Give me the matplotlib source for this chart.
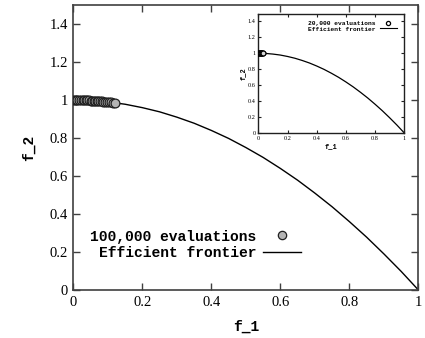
import matplotlib
matplotlib.use("Agg")
import matplotlib.pyplot as plt
from matplotlib.lines import Line2D

# Efficient frontier
front_f1 = [0.0, 0.05, 0.1, 0.15, 0.2, 0.25, 0.3, 0.35, 0.4, 0.45, 0.5,
            0.55, 0.6, 0.65, 0.7, 0.75, 0.8, 0.85, 0.9, 0.95, 1.0]
front_f2 = [1.0, 0.998, 0.99, 0.978, 0.96, 0.938, 0.91, 0.878, 0.84, 0.798, 0.75,
            0.698, 0.64, 0.578, 0.51, 0.438, 0.36, 0.278, 0.19, 0.098, 0.0]

# 100,000 evaluations solutions
main_f1 = [0.0, 0.004, 0.008, 0.012, 0.017, 0.022, 0.027, 0.031, 0.036, 0.041,
           0.046, 0.05, 0.055, 0.06, 0.064, 0.068, 0.072, 0.077, 0.082, 0.087,
           0.092, 0.097, 0.102, 0.108, 0.114, 0.12]
main_f2 = [1.0, 1.0, 1.0, 1.0, 1.0, 1.0, 0.999, 0.999, 0.999, 0.998,
           0.998, 0.997, 0.997, 0.996, 0.996, 0.995, 0.995, 0.994, 0.993, 0.992,
           0.992, 0.991, 0.99, 0.988, 0.987, 0.986]

# 20,000 evaluations solutions (inset)
ins_f1 = [0.0, 0.003, 0.006, 0.009, 0.012, 0.015, 0.018, 0.021, 0.024, 0.027, 0.03, 0.034]
ins_f2 = [1.0, 1.0, 1.0, 1.0, 1.0, 1.0, 1.0, 1.0, 0.999, 0.999, 0.999, 0.999]

ticks_main = [0, 0.2, 0.4, 0.6, 0.8, 1]
ticks_main_y = [0, 0.2, 0.4, 0.6, 0.8, 1, 1.2, 1.4]
tick_labels_x = ["0", "0.2", "0.4", "0.6", "0.8", "1"]
tick_labels_y = ["0", "0.2", "0.4", "0.6", "0.8", "1", "1.2", "1.4"]

serif = "Liberation Serif"
mono = "Liberation Mono"
spine_col = "#404040"

fig = plt.figure(figsize=(4.25, 3.38), dpi=100)
ax = fig.add_axes([0.1725, 0.142, 0.812, 0.843])

ax.plot(front_f1, front_f2, color="black", lw=1.0, zorder=2)
ax.scatter(main_f1, main_f2, s=40, facecolor="#b4b4b4", edgecolor="#202020",
           linewidths=0.9, zorder=3)

ax.set_xlim(0, 1)
ax.set_ylim(0, 1.5)
ax.set_xticks(ticks_main)
ax.set_xticklabels(tick_labels_x, fontfamily=serif, fontsize=10.5)
ax.set_yticks(ticks_main_y)
ax.set_yticklabels(tick_labels_y, fontfamily=serif, fontsize=10.5)
ax.tick_params(direction="in", length=5, width=1.0, color=spine_col,
               top=True, right=True, pad=4)
for sp in ax.spines.values():
    sp.set_color(spine_col)
    sp.set_linewidth(1.2)
ax.set_xlabel("f_1", fontfamily=mono, fontweight="bold", fontsize=10.5, labelpad=8)
ax.set_ylabel("f_2", fontfamily=mono, fontweight="bold", fontsize=10.5, labelpad=10)

h1 = Line2D([], [], ls="none", marker="o", markersize=6, markerfacecolor="#b4b4b4",
            markeredgecolor="#202020", markeredgewidth=0.9)
h2 = Line2D([], [], color="black", lw=1.0)
ax.legend([h1, h2], ["100,000 evaluations", "Efficient frontier"],
          loc="lower left", bbox_to_anchor=(0.01, 0.06), markerfirst=False,
          frameon=False, handlelength=2.6, handletextpad=0.5, labelspacing=0.15,
          prop={"family": mono, "weight": "bold", "size": 10.5})

# Inset
ai = fig.add_axes([0.608, 0.607, 0.343, 0.353])
ai.plot(front_f1, front_f2, color="black", lw=0.9, zorder=2)
ai.scatter(ins_f1, ins_f2, s=12, facecolor="#d8d8d8", edgecolor="black",
           linewidths=0.8, zorder=3)
ai.set_xlim(0, 1)
ai.set_ylim(0, 1.5)
ai.set_xticks(ticks_main)
ai.set_xticklabels(tick_labels_x, fontfamily=serif, fontsize=4.5)
ai.set_yticks(ticks_main_y)
ai.set_yticklabels(tick_labels_y, fontfamily=serif, fontsize=4.5)
ai.tick_params(direction="in", length=2, width=0.8, color="#202020",
               top=True, right=True, pad=2)
for sp in ai.spines.values():
    sp.set_color("#202020")
    sp.set_linewidth(1.0)
ai.set_xlabel("f_1", fontfamily=mono, fontweight="bold", fontsize=5, labelpad=2)
ai.set_ylabel("f_2", fontfamily=mono, fontweight="bold", fontsize=5, labelpad=1)
g1 = Line2D([], [], ls="none", marker="o", markersize=3, markerfacecolor="white",
            markeredgecolor="black", markeredgewidth=0.9)
g2 = Line2D([], [], color="black", lw=0.8)
ai.legend([g1, g2], ["20,000 evaluations", "Efficient frontier"],
          loc="upper right", bbox_to_anchor=(0.99, 0.985), markerfirst=False,
          frameon=False, handlelength=2.8, handletextpad=0.6, labelspacing=0.0,
          prop={"family": mono, "weight": "bold", "size": 4.5})

fig.savefig("out.png", dpi=100)
